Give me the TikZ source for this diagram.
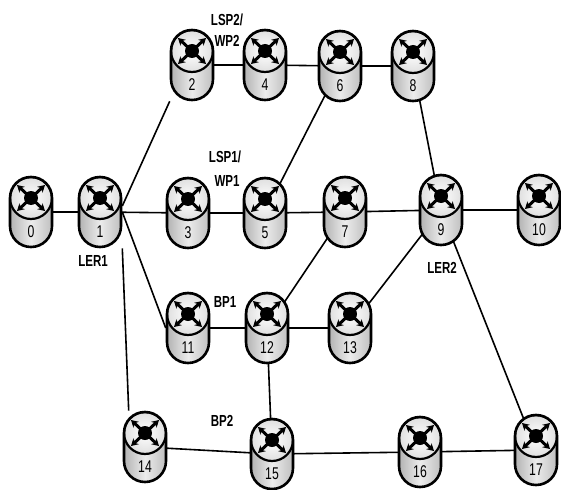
\documentclass[tikz,border=0pt]{standalone}
\usepackage{fontspec}
\setmainfont{Liberation Sans}[FakeStretch=0.72]
\usetikzlibrary{arrows.meta,backgrounds}
\tikzset{
  router/.style={draw=black, line width=2.6pt, fill=gray!28,
    minimum width=42pt, minimum height=70pt, rounded corners=20.9pt, inner sep=0pt,
    path picture={
      \shade[left color=gray!60, right color=gray!50, middle color=gray!15]
        (path picture bounding box.south west) rectangle (path picture bounding box.north east);
      \shade[draw=black, line width=2.2pt, inner color=white, outer color=gray!25] ([yshift=14pt]path picture bounding box.center) circle [x radius=21pt, y radius=21pt];
      \draw[black, line width=3pt, {Stealth[length=7pt,width=8pt]}-{Stealth[length=7pt,width=8pt]}]
        ([shift={(-14pt,1pt)}]path picture bounding box.center) -- ([shift={(14pt,27pt)}]path picture bounding box.center);
      \draw[black, line width=3pt, {Stealth[length=7pt,width=8pt]}-{Stealth[length=7pt,width=8pt]}]
        ([shift={(-14pt,27pt)}]path picture bounding box.center) -- ([shift={(14pt,1pt)}]path picture bounding box.center);
      \fill[black] ([yshift=14pt]path picture bounding box.center) circle (7pt);
      \node[text=black, font=\fontsize{17}{17}\selectfont, inner sep=0pt] at ([yshift=-20pt]path picture bounding box.center) {#1};
    }},
  lab/.style={font=\fontsize{16}{18}\selectfont\bfseries, inner sep=0pt, align=center},
  link/.style={line width=1.6pt}
}
\begin{document}
\begin{tikzpicture}[x=1pt,y=1pt]
\useasboundingbox (0,0) rectangle (561,-489);
\node[router=0]  (n0)  at (31,-212) {};
\node[router=1]  (n1)  at (100,-212) {};
\node[router=2]  (n2)  at (192,-65) {};
\node[router=4]  (n4)  at (265,-65) {};
\node[router=6]  (n6)  at (340,-66) {};
\node[router=8]  (n8)  at (413,-66) {};
\node[router=3]  (n3)  at (188,-213) {};
\node[router=5]  (n5)  at (265,-213) {};
\node[router=7]  (n7)  at (345,-212) {};
\node[router=9]  (n9)  at (441,-210) {};
\node[router=10] (n10) at (539,-210) {};
\node[router=11] (n11) at (188,-328) {};
\node[router=12] (n12) at (267,-328) {};
\node[router=13] (n13) at (350,-328) {};
\node[router=14] (n14) at (145,-447) {};
\node[router=15] (n15) at (272,-454) {};
\node[router=16] (n16) at (420,-452) {};
\node[router=17] (n17) at (536,-450) {};

\node[lab] (l1) at (93,-261) {LER1};
\node[lab] (l2) at (442,-268) {LER2};
\node[lab] (lsp2) at (227,-20) {LSP2/};
\node[lab] (wp2) at (227,-41) {WP2};
\node[lab] (lsp1) at (225,-157) {LSP1/};
\node[lab] (wp1) at (227,-181) {WP1};
\node[lab] (bp1) at (225,-302) {BP1};
\node[lab] (bp2) at (222,-421) {BP2};

\begin{scope}[on background layer]
\draw[link] (n0.center) -- (n1.center);
\draw[link] ([yshift=6pt]n1.east) -- (n2.south west);
\draw[link] (n1.center) -- (n3.center);
\draw[link] (n1.east) -- (n11.west);
\draw[link] (n1.south east) -- ([xshift=6pt]n14.north west);
\draw[link] (n2.center) -- (n4.center);
\draw[link] (n4.center) -- (n6.center);
\draw[link] (n6.center) -- (n8.center);
\draw[link] (n6.center) -- (n5.center);
\draw[link] (n3.center) -- (n5.center);
\draw[link] (n5.center) -- (n7.center);
\draw[link] (n7.center) -- (n9.center);
\draw[link] (n9.center) -- (n10.center);
\draw[link] (n8.center) -- (n9.center);
\draw[link] (n9.center) -- (n17.center);
\draw[link] (n9.center) -- (n13.center);
\draw[link] (n7.center) -- (n12.center);
\draw[link] (n11.center) -- (n12.center);
\draw[link] (n12.center) -- (n13.center);
\draw[link] (n12.center) -- (n15.center);
\draw[link] (n14.center) -- (n15.center);
\draw[link] (n15.center) -- (n16.center);
\draw[link] (n16.center) -- (n17.center);
\end{scope}
\end{tikzpicture}
\end{document}
